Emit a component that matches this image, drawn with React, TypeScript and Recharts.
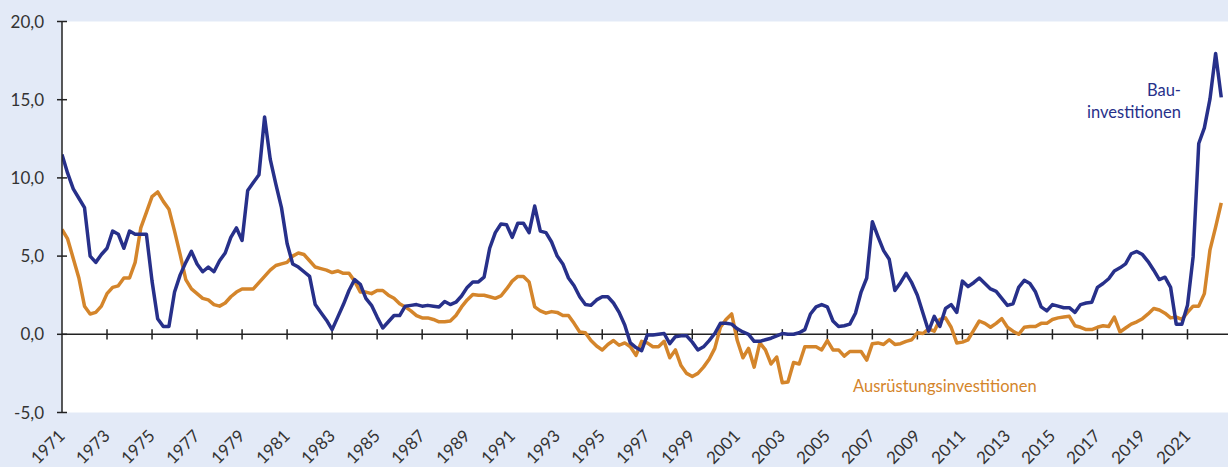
import React from "react";
import { LineChart, Line, XAxis, YAxis, CartesianGrid, ReferenceLine } from "recharts";

// Quarterly values, 1971Q1 .. 2022Q3 (Veränderung gegenüber Vorjahr, %)
const bauInvestitionen: number[] = [
  11.5, 10.3, 9.3, 8.7, 8.1, 5.0, 4.6, 5.1, 5.5, 6.6,
  6.4, 5.5, 6.6, 6.4, 6.4, 6.4, 3.4, 1.0, 0.5, 0.5,
  2.7, 3.8, 4.6, 5.3, 4.5, 4.0, 4.3, 4.0, 4.7, 5.2,
  6.2, 6.8, 6.0, 9.2, 9.7, 10.2, 13.9, 11.2, 9.6, 8.1,
  5.8, 4.5, 4.3, 4.0, 3.7, 1.9, 1.4, 0.9, 0.3, 1.1,
  1.9, 2.8, 3.5, 3.2, 2.3, 1.85, 1.1, 0.4, 0.8, 1.2,
  1.2, 1.8, 1.85, 1.9, 1.8, 1.85, 1.8, 1.75, 2.1, 1.9,
  2.05, 2.45, 3.0, 3.35, 3.35, 3.65, 5.5, 6.5, 7.05, 7.0,
  6.2, 7.1, 7.1, 6.5, 8.2, 6.6, 6.5, 5.9, 5.0, 4.5,
  3.6, 3.1, 2.4, 1.9, 1.85, 2.2, 2.4, 2.4, 2.0, 1.4,
  0.6, -0.55, -0.85, -1.05, -0.05, -0.05, 0.0, 0.05, -0.6, -0.15,
  -0.1, -0.1, -0.5, -1.0, -0.8, -0.4, 0.05, 0.7, 0.7, 0.65,
  0.35, 0.15, 0.0, -0.45, -0.45, -0.35, -0.25, -0.1, 0.05, 0.0,
  0.0, 0.1, 0.3, 1.3, 1.75, 1.9, 1.75, 0.85, 0.5, 0.55,
  0.65, 1.35, 2.7, 3.6, 7.2, 6.25, 5.35, 4.8, 2.8, 3.3,
  3.9, 3.3, 2.5, 1.35, 0.2, 1.15, 0.5, 1.65, 1.9, 1.4,
  3.4, 3.05, 3.3, 3.6, 3.25, 2.9, 2.75, 2.3, 1.85, 1.95,
  3.0, 3.45, 3.25, 2.7, 1.75, 1.5, 1.9, 1.8, 1.7, 1.7,
  1.4, 1.9, 2.0, 2.05, 3.0, 3.25, 3.55, 4.05, 4.25, 4.5,
  5.15, 5.3, 5.1, 4.65, 4.1, 3.5, 3.65, 3.0, 0.65, 0.65,
  1.85, 4.95, 12.2, 13.2, 15.05, 17.95, 15.15,
];

const ausruestungsInvestitionen: number[] = [
  6.7, 6.1, 4.85, 3.6, 1.8, 1.3, 1.4, 1.8, 2.6, 3.0,
  3.1, 3.6, 3.6, 4.6, 6.8, 7.8, 8.8, 9.1, 8.5, 8.0,
  6.6, 5.1, 3.5, 2.9, 2.6, 2.3, 2.2, 1.9, 1.8, 2.0,
  2.4, 2.7, 2.9, 2.9, 2.9, 3.3, 3.7, 4.1, 4.4, 4.5,
  4.6, 5.0, 5.2, 5.1, 4.7, 4.3, 4.2, 4.1, 3.95, 4.05,
  3.9, 3.9, 3.4, 2.7, 2.7, 2.6, 2.8, 2.8, 2.5, 2.3,
  1.95, 1.75, 1.5, 1.2, 1.05, 1.05, 0.95, 0.8, 0.8, 0.85,
  1.2, 1.75, 2.2, 2.55, 2.5, 2.5, 2.4, 2.3, 2.45, 2.9,
  3.4, 3.7, 3.7, 3.35, 1.75, 1.5, 1.35, 1.45, 1.4, 1.2,
  1.2, 0.7, 0.15, 0.1, -0.4, -0.75, -1.0, -0.65, -0.4, -0.7,
  -0.55, -0.8, -1.35, -0.45, -0.55, -0.8, -0.8, -0.45, -1.5, -1.0,
  -2.0, -2.5, -2.7, -2.5, -2.1, -1.6, -0.9, 0.45, 0.95, 1.3,
  -0.4, -1.5, -0.9, -2.1, -0.55, -1.0, -1.9, -1.45, -3.1, -3.05,
  -1.8, -1.9, -0.8, -0.8, -0.8, -1.0, -0.4, -1.0, -1.0, -1.4,
  -1.1, -1.1, -1.1, -1.65, -0.6, -0.55, -0.65, -0.35, -0.65, -0.6,
  -0.45, -0.35, 0.1, 0.05, 0.35, 0.2, 0.95, 1.05, 0.45, -0.55,
  -0.5, -0.35, 0.25, 0.85, 0.7, 0.45, 0.7, 1.0, 0.45, 0.2,
  0.0, 0.45, 0.5, 0.5, 0.7, 0.7, 0.95, 1.05, 1.1, 1.15,
  0.55, 0.45, 0.3, 0.3, 0.45, 0.55, 0.5, 1.1, 0.15, 0.4,
  0.65, 0.8, 1.0, 1.3, 1.65, 1.55, 1.35, 1.05, 1.1, 0.95,
  1.4, 1.8, 1.8, 2.6, 5.4, 6.85, 8.4,
];

const startYear = 1971;
const xTicks: number[] = [1971, 1973, 1975, 1977, 1979, 1981, 1983, 1985, 1987, 1989, 1991, 1993, 1995, 1997, 1999, 2001, 2003, 2005, 2007, 2009, 2011, 2013, 2015, 2017, 2019, 2021];
const yTicks: number[] = [-5, 0, 5, 10, 15, 20];

const quarterLabels: string[] = bauInvestitionen.map(
  (_, i) => `${startYear + Math.floor(i / 4)}Q${(i % 4) + 1}`
);

const data = quarterLabels.map((q, i) => ({
  q,
  t: startYear + i / 4,
  bau: bauInvestitionen[i],
  aus: ausruestungsInvestitionen[i],
}));

const BLUE = "#27308a";
const ORANGE = "#d4852b";
const BG = "#e3eaf7";
const AXIS = "#222";
const TEXT = "#333";
const FONT = "Lato, 'Open Sans', sans-serif";

const fmt = (v: number) => v.toFixed(1).replace(".", ",");

const Y_TICK_SIZE = 5;
const Y_TICK_MARGIN = 13;

const YTick = (props: any) => {
  const { x, y, payload } = props;
  const axisX = x + Y_TICK_MARGIN + Y_TICK_SIZE;
  return (
    <g>
      <line x1={axisX - 5} x2={axisX + 5} y1={y} y2={y} stroke={AXIS} strokeWidth={1.5} />
      <text x={x} y={y} dy={6} textAnchor="end" fontSize={17} fontFamily={FONT} fill={TEXT}>
        {fmt(payload.value)}
      </text>
    </g>
  );
};

const XTick = (props: any) => {
  const { x, y, payload } = props;
  const ax = x + 4;
  return (
    <text
      x={ax}
      y={y}
      textAnchor="end"
      fontSize={17}
      fontFamily={FONT}
      fill={TEXT}
      transform={`rotate(-45, ${ax}, ${y})`}
    >
      {payload.value}
    </text>
  );
};

export default function App() {
  return (
    <div
      style={{
        position: "absolute",
        left: 0,
        top: 0,
        width: 1228,
        height: 467,
        background: BG,
        overflow: "hidden",
      }}
    >
      <LineChart
        width={1228}
        height={467}
        data={data}
        margin={{ top: 21.5, right: 0, bottom: 0, left: 0 }}
      >
        <CartesianGrid horizontal={false} vertical={false} fill="#ffffff" />
        <XAxis
          dataKey="t"
          type="number"
          domain={[1971, 2022.8]}
          allowDataOverflow
          ticks={xTicks}
          interval={0}
          axisLine={false}
          tickLine={false}
          tickSize={0}
          tickMargin={24.5}
          height={54.5}
          tick={<XTick />}
        />
        <YAxis
          type="number"
          domain={[-5, 20]}
          ticks={yTicks}
          interval={0}
          width={62}
          axisLine={{ stroke: AXIS, strokeWidth: 1.5 }}
          tickLine={false}
          tickSize={Y_TICK_SIZE}
          tickMargin={Y_TICK_MARGIN}
          tick={<YTick />}
        />
        <ReferenceLine y={0} stroke={AXIS} strokeWidth={1.5} />
        {xTicks.slice(1).map((yr) => (
          <ReferenceLine
            key={yr}
            segment={[
              { x: yr, y: -0.33 },
              { x: yr, y: 0.33 },
            ]}
            stroke={AXIS}
            strokeWidth={1.5}
          />
        ))}
        <Line
          type="linear"
          dataKey="aus"
          stroke={ORANGE}
          strokeWidth={3.5}
          dot={false}
          isAnimationActive={false}
          strokeLinejoin="round"
        />
        <Line
          type="linear"
          dataKey="bau"
          stroke={BLUE}
          strokeWidth={3.5}
          dot={false}
          isAnimationActive={false}
          strokeLinejoin="round"
        />
      </LineChart>
      <svg
        width={1228}
        height={467}
        style={{ position: "absolute", left: 0, top: 0, pointerEvents: "none" }}
      >
        <text x={1181} y={96} textAnchor="end" fontSize={16.5} fontFamily={FONT} fill={BLUE}>
          Bau-
        </text>
        <text x={1181} y={117.5} textAnchor="end" fontSize={16.5} fontFamily={FONT} fill={BLUE}>
          investitionen
        </text>
        <text x={853} y={391.5} textAnchor="start" fontSize={16.5} fontFamily={FONT} fill={ORANGE}>
          Ausrüstungsinvestitionen
        </text>
      </svg>
    </div>
  );
}
